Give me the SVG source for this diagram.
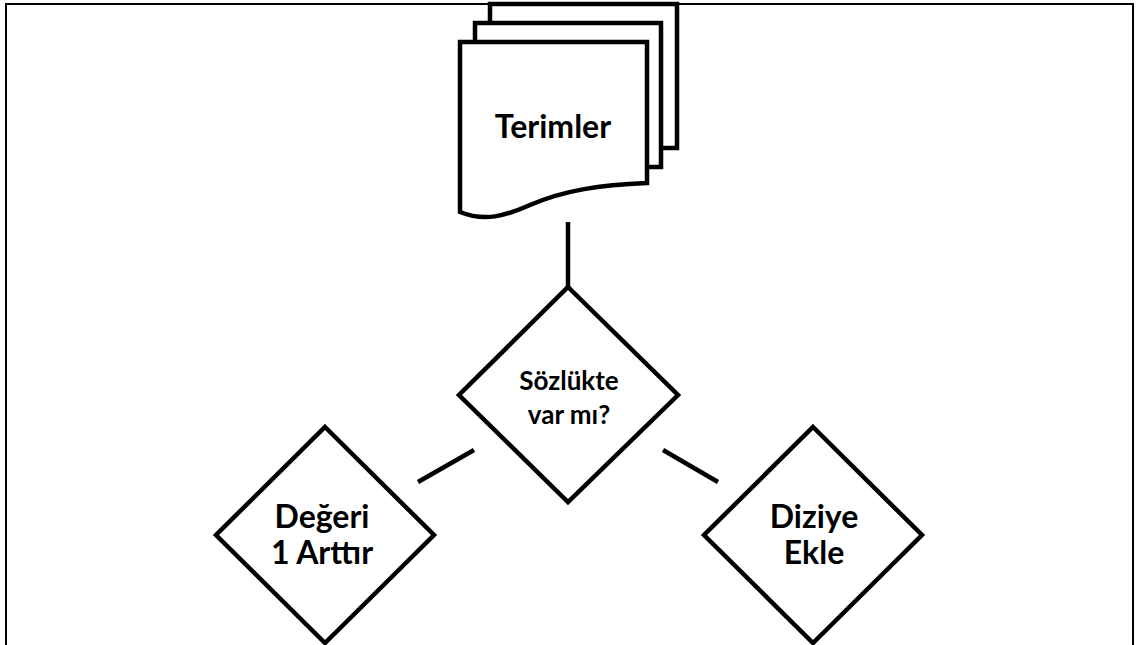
<svg xmlns="http://www.w3.org/2000/svg" width="1136" height="645" viewBox="0 0 1136 645">
<style>
.s{fill:#fff;stroke:#000;stroke-width:4.5;stroke-linejoin:miter}
.c{stroke:#000;stroke-width:4.5;fill:none}
.t{font-family:Lato,"Liberation Sans",sans-serif;font-weight:bold;fill:#000;text-anchor:middle}
</style>
<rect x="6" y="4" width="1127" height="700" fill="#fff" stroke="#000" stroke-width="2"/>
<g id="connectors">
<line class="c" x1="568" y1="222" x2="568" y2="288"/>
<line class="c" x1="418" y1="482" x2="474" y2="450"/>
<line class="c" x1="663" y1="450" x2="718" y2="482"/>
</g>
<g id="terimler">
<rect class="s" x="490" y="4" width="187" height="144"/>
<rect class="s" x="475" y="23" width="186" height="144"/>
<path class="s" d="M460,42 H647 V183 C600,185 565,190 530,205 C505,216 485,222 460,212 Z"/>
<text class="t" x="553" y="138" font-size="32">Terimler</text>
</g>
<g id="sozlukte">
<polygon class="s" points="568,287 678,395 568,502 459,395"/>
<text class="t" x="569" y="390" font-size="26">Sözlükte</text>
<text class="t" x="569" y="424" font-size="26">var mı?</text>
</g>
<g id="degeri">
<polygon class="s" points="325,427 434,535 325,643 216,535"/>
<text class="t" x="322" y="528" font-size="32">Değeri</text>
<text class="t" x="322" y="564" font-size="32">1 Arttır</text>
</g>
<g id="diziye">
<polygon class="s" points="813,427 922,535 813,643 704,535"/>
<text class="t" x="814" y="528" font-size="32">Diziye</text>
<text class="t" x="814" y="564" font-size="32">Ekle</text>
</g>
</svg>
